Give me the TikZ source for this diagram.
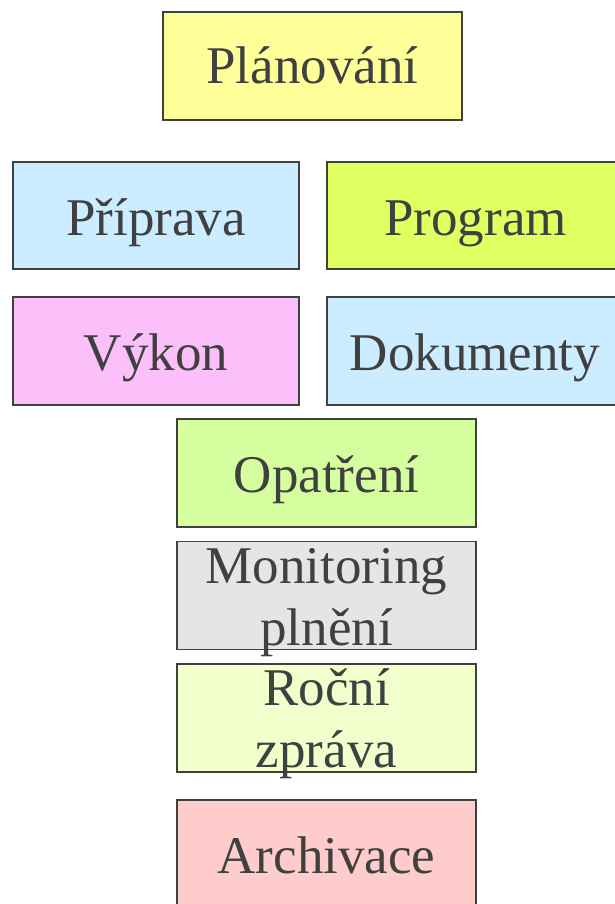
\documentclass[tikz,border=0pt]{standalone}
\usepackage{fontspec}
\setmainfont{Liberation Serif}
\definecolor{ink}{HTML}{404040}
\definecolor{cPlan}{HTML}{FFFF99}
\definecolor{cBlue}{HTML}{CCECFF}
\definecolor{cProg}{HTML}{E0FF60}
\definecolor{cVykon}{HTML}{FBBFF9}
\definecolor{cOpat}{HTML}{D5FF9F}
\definecolor{cMon}{HTML}{E5E5E5}
\definecolor{cRoc}{HTML}{F0FFCC}
\definecolor{cArch}{HTML}{FFCCCC}
\tikzset{
  box/.style={draw=ink, line width=1.4pt, rectangle, inner sep=0pt, outer sep=0pt,
    minimum width=299pt, minimum height=108pt},
  lbl/.style={text=ink, inner sep=0pt, anchor=base,
    font=\fontsize{53}{62}\selectfont},
  lbl2/.style={lbl, text width=300pt, align=center}
}
\begin{document}
\begin{tikzpicture}[x=1pt,y=-1pt]
\useasboundingbox (0,0) rectangle (615,904);
\clip (0,0) rectangle (615,904);
\node[box, fill=cPlan] (plan) at (312.5,66) {};
\node[box, fill=cBlue, minimum width=286pt, minimum height=107pt] (prip) at (156,215.5) {};
\node[box, fill=cProg, minimum width=300pt, minimum height=107pt] (prog) at (477,215.5) {};
\node[box, fill=cVykon, minimum width=286pt] (vykon) at (156,351) {};
\node[box, fill=cBlue, minimum width=300pt] (dok) at (477,351) {};
\node[box, fill=cOpat] (opat) at (326.5,473) {};
\node[box, fill=cMon] (mon) at (326.5,595.5) {};
\node[box, fill=cRoc] (roc) at (326.5,718) {};
\node[box, fill=cArch] (arch) at (326.5,854) {};

\node[lbl] (planT) at ([yshift=-18pt]plan.center) {Plánování};
\node[lbl] (pripT) at ([yshift=-19.5pt]prip.center) {Příprava};
\node[lbl] (progT) at ([xshift=-1.5pt,yshift=-19.5pt]prog.center) {Program};
\node[lbl] (vykonT) at ([yshift=-19pt]vykon.center) {Výkon};
\node[lbl] (dokT) at ([xshift=-2pt,yshift=-19pt]dok.center) {Dokumenty};
\node[lbl] (opatT) at ([yshift=-19pt]opat.center) {Opatření};
\node[lbl2] (monT) at ([yshift=12.5pt]mon.center) {Monitoring\\plnění};
\node[lbl2] (rocT) at ([yshift=13pt]roc.center) {Roční\\zpráva};
\node[lbl] (archT) at ([yshift=-19pt]arch.center) {Archivace};
\end{tikzpicture}
\end{document}
